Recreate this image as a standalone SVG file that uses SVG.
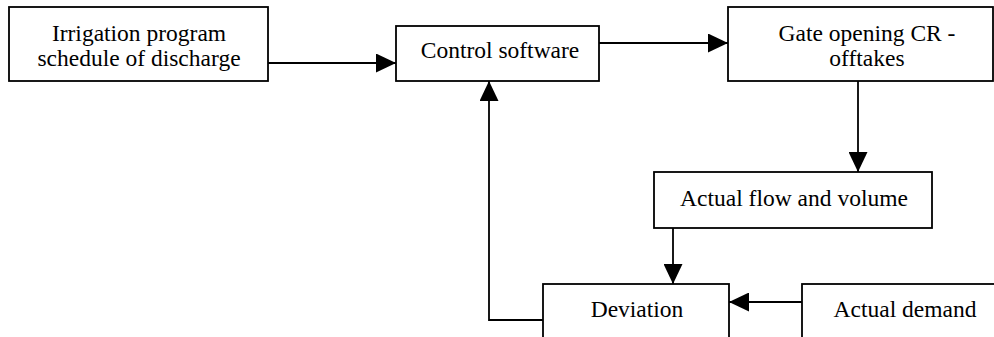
<svg xmlns="http://www.w3.org/2000/svg" width="994" height="337" viewBox="0 0 994 337">
<style>
.box{fill:#fff;stroke:#000;stroke-width:1.8}
.lbl{font-family:"Liberation Serif","Times New Roman",serif;font-size:23.5px;fill:#000;text-anchor:middle}
.con{fill:none;stroke:#000;stroke-width:1.8;marker-end:url(#ah)}
</style>
<defs>
<marker id="ah" viewBox="0 0 20 19" refX="20" refY="9.5" markerWidth="20" markerHeight="19" markerUnits="userSpaceOnUse" orient="auto">
<path d="M0,0 L20,9.5 L0,19 z" fill="#000"/>
</marker>
</defs>
<rect width="994" height="337" fill="#fff"/>
<g id="connectors">
<path class="con" d="M268,63 H396"/>
<path class="con" d="M599,43 H728"/>
<path class="con" d="M858,81 V172"/>
<path class="con" d="M673,228 V284"/>
<path class="con" d="M802,302 H729"/>
<path class="con" d="M543,320 H489 V81"/>
</g>
<g id="irrigation">
<rect class="box" x="9" y="7" width="259" height="74"/>
<text class="lbl" x="139" y="41">Irrigation program</text>
<text class="lbl" x="139" y="66">schedule of discharge</text>
</g>
<g id="control">
<rect class="box" x="396" y="26" width="203" height="55"/>
<text class="lbl" x="500" y="58">Control software</text>
</g>
<g id="gate">
<rect class="box" x="728" y="7" width="265" height="74"/>
<text class="lbl" x="867" y="41">Gate opening CR -</text>
<text class="lbl" x="867" y="66">offtakes</text>
</g>
<g id="flow">
<rect class="box" x="654" y="172" width="278" height="56"/>
<text class="lbl" x="794" y="206">Actual flow and volume</text>
</g>
<g id="deviation">
<rect class="box" x="543" y="284" width="186" height="70"/>
<text class="lbl" x="637" y="317">Deviation</text>
</g>
<g id="demand">
<rect class="box" x="802" y="284" width="210" height="70"/>
<text class="lbl" x="905" y="317">Actual demand</text>
</g>
</svg>
